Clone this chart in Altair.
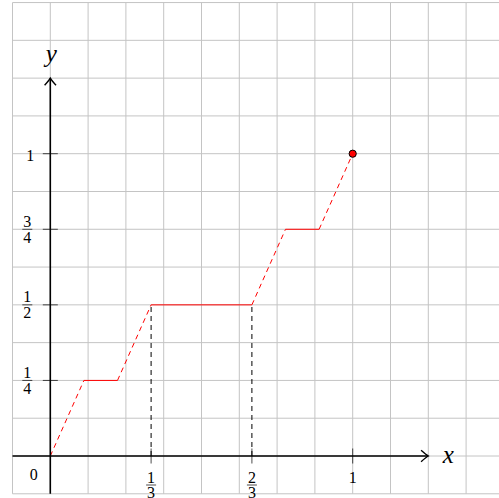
import altair as alt
import pandas as pd

# Cantor staircase after two construction steps
stair_x = [0, 1/9, 2/9, 1/3, 2/3, 7/9, 8/9, 1]
stair_y = [0, 1/4, 1/4, 1/2, 1/2, 3/4, 3/4, 1]
# rising pieces are dashed, the constant pieces solid
piece_kind = ["rise", "flat", "rise", "flat", "rise", "flat", "rise"]

# background grid, every 1/8
grid_vals = [-1/8, 0, 1/8, 2/8, 3/8, 4/8, 5/8, 6/8, 7/8, 1, 9/8, 10/8, 11/8, 12/8]

# axis ticks and their labels (numerator / denominator)
x_tick_vals = [1/3, 2/3, 1]
x_tick_num = ["1", "2", "1"]
x_tick_den = ["3", "3", ""]
y_tick_vals = [1/4, 1/2, 3/4, 1]
y_tick_num = ["1", "1", "3", "1"]
y_tick_den = ["4", "2", "4", ""]

# dashed drop lines from the ends of the middle plateau
drop_x = [1/3, 2/3]
drop_top = [1/2, 1/2]

W, H = 499, 498
xs = alt.Scale(domain=[-0.16634, 1.48380], nice=False, zero=False)
ys = alt.Scale(domain=[-0.13893, 1.50844], nice=False, zero=False)
FONT = "Liberation Serif"


def X(f, **k):
    return alt.X(f, type="quantitative", scale=xs, axis=None, **k)


def Y(f, **k):
    return alt.Y(f, type="quantitative", scale=ys, axis=None, **k)


# grid
gv = pd.DataFrame({"x": grid_vals, "y": -1/8, "y2": 1.5})
gh = pd.DataFrame({"y": grid_vals, "x": -1/8, "x2": 1.5})
grid_v = alt.Chart(gv).mark_rule(color="#c4c4c4", strokeWidth=1, clip=True).encode(
    x=X("x"), y=Y("y"), y2="y2")
grid_h = alt.Chart(gh).mark_rule(color="#c4c4c4", strokeWidth=1, clip=True).encode(
    y=Y("y"), x=X("x"), x2="x2")

# axes with arrow tips
axes_df = pd.DataFrame({"x": [-1/8, 0], "y": [0, -1/8], "x2": [1.25, 0], "y2": [0, 1.25]})
axes = alt.Chart(axes_df).mark_rule(color="black", strokeWidth=1.6).encode(
    x=X("x"), y=Y("y"), x2="x2", y2="y2")
tip_right = alt.Chart(pd.DataFrame({"x": [1.25], "y": [0]})).mark_point(
    shape="M -1.2 -0.95 Q -0.35 -0.2 0 0 Q -0.35 0.2 -1.2 0.95",
    size=144, filled=False, color="black", strokeWidth=1.4, opacity=1).encode(
    x=X("x"), y=Y("y"))
tip_up = alt.Chart(pd.DataFrame({"x": [0], "y": [1.25]})).mark_point(
    shape="M -0.95 1.2 Q -0.2 0.35 0 0 Q 0.2 0.35 0.95 1.2",
    size=144, filled=False, color="black", strokeWidth=1.4, opacity=1).encode(
    x=X("x"), y=Y("y"))

# tick marks
xt = pd.DataFrame({"x": x_tick_vals, "y": 0, "num": x_tick_num, "den": x_tick_den})
yt = pd.DataFrame({"y": y_tick_vals, "x": 0, "num": y_tick_num, "den": y_tick_den})
x_ticks = alt.Chart(xt).mark_tick(orient="vertical", size=15, thickness=1, color="black").encode(
    x=X("x"), y=Y("y"))
y_ticks = alt.Chart(yt).mark_tick(orient="horizontal", size=15, thickness=1, color="black").encode(
    x=X("x"), y=Y("y"))

# drop lines
drops = alt.Chart(pd.DataFrame({"x": drop_x, "y": 0, "y2": drop_top})).mark_rule(
    color="black", strokeWidth=1, strokeDash=[5, 4]).encode(x=X("x"), y=Y("y"), y2="y2")

# staircase
pieces = pd.DataFrame({
    "x": stair_x[:-1], "y": stair_y[:-1],
    "x2": stair_x[1:], "y2": stair_y[1:],
    "kind": piece_kind,
})
rise = alt.Chart(pieces).transform_filter(alt.datum.kind == "rise").mark_rule(
    color="#ff0000", strokeWidth=1, strokeDash=[5, 4]).encode(
    x=X("x"), y=Y("y"), x2="x2", y2="y2")
flat = alt.Chart(pieces).transform_filter(alt.datum.kind == "flat").mark_rule(
    color="#ff0000", strokeWidth=1).encode(
    x=X("x"), y=Y("y"), x2="x2", y2="y2")
end_dot = alt.Chart(pd.DataFrame({"x": [stair_x[-1]], "y": [stair_y[-1]]})).mark_point(
    shape="circle", size=52, filled=True, fill="#ff0000", stroke="black",
    strokeWidth=1, opacity=1).encode(x=X("x"), y=Y("y"))

# tick labels
txt = dict(font=FONT, fontSize=16, color="black", align="center", baseline="middle")
x_whole = alt.Chart(xt).transform_filter(alt.datum.den == "").mark_text(dy=22, **txt).encode(
    x=X("x"), y=Y("y"), text="num:N")
x_num = alt.Chart(xt).transform_filter(alt.datum.den != "").mark_text(dy=21.5, **txt).encode(
    x=X("x"), y=Y("y"), text="num:N")
x_den = alt.Chart(xt).transform_filter(alt.datum.den != "").mark_text(dy=37, **txt).encode(
    x=X("x"), y=Y("y"), text="den:N")
x_bar = alt.Chart(xt).transform_filter(alt.datum.den != "").mark_tick(
    orient="horizontal", size=10, thickness=1, color="black", yOffset=29).encode(
    x=X("x"), y=Y("y"))

y_whole = alt.Chart(yt).transform_filter(alt.datum.den == "").mark_text(dx=-20, dy=2, **txt).encode(
    x=X("x"), y=Y("y"), text="num:N")
y_num = alt.Chart(yt).transform_filter(alt.datum.den != "").mark_text(dx=-23, dy=-7.5, **txt).encode(
    x=X("x"), y=Y("y"), text="num:N")
y_den = alt.Chart(yt).transform_filter(alt.datum.den != "").mark_text(dx=-23, dy=8.5, **txt).encode(
    x=X("x"), y=Y("y"), text="den:N")
y_bar = alt.Chart(yt).transform_filter(alt.datum.den != "").mark_tick(
    orient="horizontal", size=10, thickness=1, color="black", xOffset=-23).encode(
    x=X("x"), y=Y("y"))

origin = alt.Chart(pd.DataFrame({"x": [0], "y": [0], "t": ["0"]})).mark_text(
    dx=-16.5, dy=19, **txt).encode(x=X("x"), y=Y("y"), text="t:N")

# axis names
x_name = alt.Chart(pd.DataFrame({"x": [1.25], "y": [0], "t": ["x"]})).mark_text(
    font=FONT, fontSize=25, fontStyle="italic", color="black", align="center",
    baseline="middle", dx=20, dy=-1).encode(x=X("x"), y=Y("y"), text="t:N")
y_name = alt.Chart(pd.DataFrame({"x": [0], "y": [1.25], "t": ["y"]})).mark_text(
    font=FONT, fontSize=25, fontStyle="italic", color="black", align="center",
    baseline="middle", dx=1, dy=-24).encode(x=X("x"), y=Y("y"), text="t:N")

chart = alt.layer(
    grid_v, grid_h, drops, rise, flat, axes, tip_right, tip_up, x_ticks, y_ticks,
    end_dot, x_whole, x_num, x_den, x_bar, y_whole, y_num, y_den, y_bar, origin,
    x_name, y_name,
).properties(
    width=W, height=H, padding=0, background="white",
    autosize=alt.AutoSizeParams(type="none"),
).configure_view(stroke=None)

chart.save("out.html", embed_options={"renderer": "svg", "actions": False})
